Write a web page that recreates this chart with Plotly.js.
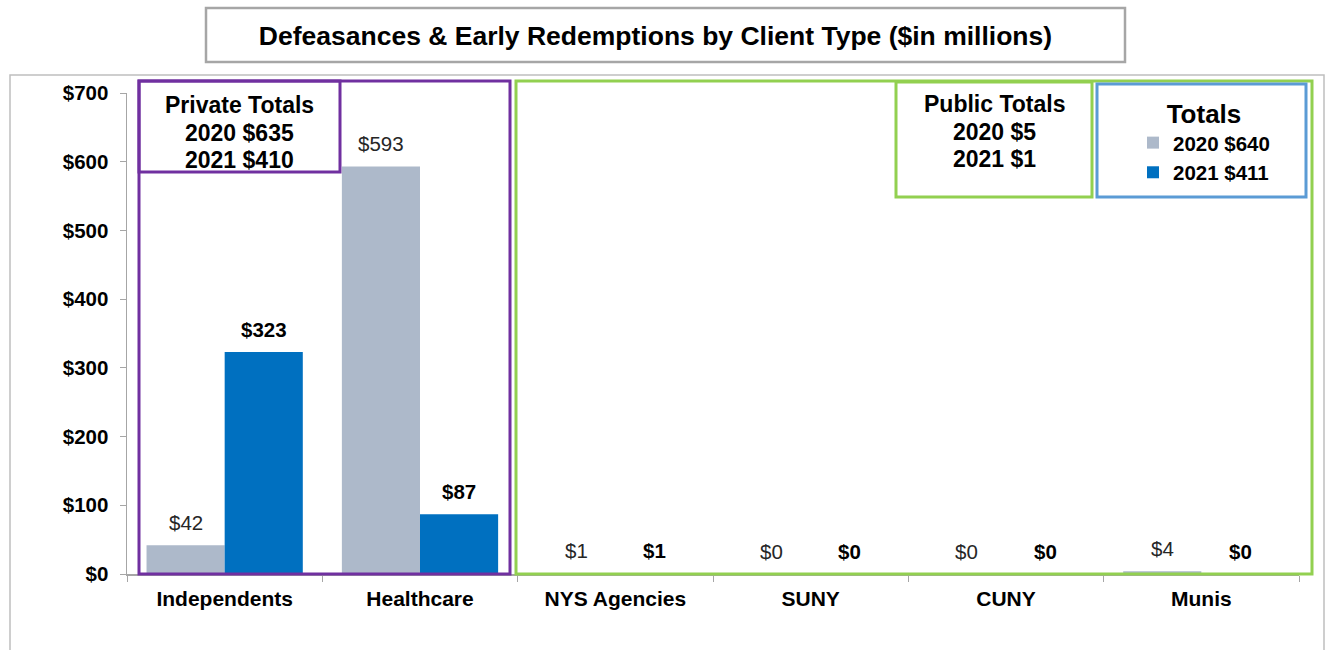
<!DOCTYPE html>
<html>
<head>
<meta charset="utf-8">
<script src="https://cdn.plot.ly/plotly-3.0.1.min.js"></script>
<style>
  html, body { margin: 0; padding: 0; background: #fff; }
  #plot { width: 1325px; height: 650px; }
</style>
</head>
<body>
<div id="plot"></div>
<script>
// 顧客タイプ別の値 ($ millions)
const categories = ["Independents", "Healthcare", "NYS Agencies", "SUNY", "CUNY", "Munis"];
const values2020 = [42, 593, 1, 0, 0, 4];
const values2021 = [323, 87, 1, 0, 0, 0];
const privateCount = 2;   // 先頭2つが private、残りが public
const yTicks = [0, 100, 200, 300, 400, 500, 600, 700];

const FONT = 'Arial, "Liberation Sans", sans-serif';
const GRAY = "#ADB9CA", BLUE = "#0070C0";

// プロット領域のピクセル位置
const W = 1325, H = 650;
const L = 127, R = 1299, T = 93, B = 574;
const px = x => (x - L) / (R - L);
const py = y => (B - y) / (B - T);

const sum = a => a.reduce((s, v) => s + v, 0);
const priv2020 = sum(values2020.slice(0, privateCount));
const priv2021 = sum(values2021.slice(0, privateCount));
const pub2020 = sum(values2020.slice(privateCount));
const pub2021 = sum(values2021.slice(privateCount));
const total2020 = sum(values2020), total2021 = sum(values2021);

const bargap = 0.2;
const catW = (R - L) / categories.length;
const barShift = catW * (1 - bargap) / 4;  // 棒の中心までのずれ

const traces = [{
    type: "bar",
    x: categories,
    y: values2020,
    name: `2020 $${total2020}`,
    marker: {color: GRAY},
    hoverinfo: "x+y"
}, {
    type: "bar",
    x: categories,
    y: values2021,
    name: `2021 $${total2021}`,
    marker: {color: BLUE},
    hoverinfo: "x+y"
}];

// 棒の上のラベル
const annotations = [];
categories.forEach((c, i) => {
    annotations.push({
        x: c, y: values2020[i], xref: "x", yref: "y",
        text: "$" + values2020[i], showarrow: false,
        xshift: -barShift, yshift: 23, yanchor: "middle",
        font: {family: FONT, size: 20.5, color: "#262626"}
    });
    annotations.push({
        x: c, y: values2021[i], xref: "x", yref: "y",
        text: "<b>$" + values2021[i] + "</b>", showarrow: false,
        xshift: barShift, yshift: 23, yanchor: "middle",
        font: {family: FONT, size: 20.5, color: "#000"}
    });
});

// 枠内の合計 (1行ずつ)
function boxText(cx, lines, ys) {
    lines.forEach((t, k) => annotations.push({
        x: px(cx), y: py(ys[k]), xref: "paper", yref: "paper",
        text: "<b>" + t + "</b>", showarrow: false,
        xanchor: "center", yanchor: "middle",
        font: {family: FONT, size: 23, color: "#000"}
    }));
}
boxText(239.5, ["Private Totals", `2020 $${priv2020}`, `2021 $${priv2021}`], [105, 133, 160]);
boxText(994, ["Public Totals", `2020 $${pub2020}`, `2021 $${pub2021}`], [104, 132, 159]);

const rect = (x0, y0, x1, y1, color, width) => ({
    type: "rect", xref: "paper", yref: "paper",
    x0: px(x0), x1: px(x1), y0: py(y1), y1: py(y0),
    line: {color: color, width: width}, fillcolor: "rgba(0,0,0,0)"
});

const shapes = [
    rect(10, 75, 1324, 700, "#BFBFBF", 1.5),      // 外枠
    rect(206, 8, 1125, 62, "#A6A6A6", 2.5),       // タイトル枠
    rect(139, 81, 510, 574, "#7030A0", 3),        // private
    rect(139, 81, 340, 172, "#7030A0", 3),
    rect(516, 81, 1312, 574, "#92D050", 3),       // public
    rect(896, 82, 1092, 197, "#92D050", 3),
    rect(1097, 84, 1306, 197, "#5B9BD5", 3)       // totals
];

const layout = {
    width: W, height: H,
    margin: {l: L, r: W - R, t: T, b: H - B},
    paper_bgcolor: "#fff", plot_bgcolor: "#fff",
    font: {family: FONT, color: "#000"},
    title: {
        text: "<b>Defeasances & Early Redemptions by Client Type ($in millions)</b>",
        x: 655.5 / W, xref: "container", xanchor: "center",
        y: 1 - 36 / H, yref: "container", yanchor: "middle",
        font: {family: FONT, size: 26.5, color: "#000"}
    },
    barmode: "group",
    bargap: bargap,
    bargroupgap: 0,
    showlegend: true,
    legend: {
        x: px(1133), xanchor: "left", y: py(89), yanchor: "top",
        title: {text: "<b>Totals</b>", side: "top center", font: {family: FONT, size: 26}},
        font: {family: FONT, size: 20.5, color: "#000", weight: "bold"},
        bgcolor: "rgba(0,0,0,0)", borderwidth: 0,
        itemclick: false, itemdoubleclick: false
    },
    xaxis: {
        type: "category",
        showline: true, linecolor: "#A6A6A6", linewidth: 1.5,
        ticks: "outside", tickson: "boundaries", ticklen: 6, tickcolor: "#A6A6A6",
        tickfont: {family: FONT, size: 21, color: "#000", weight: "bold"},
        ticklabelstandoff: 5,
        showgrid: false, zeroline: false
    },
    yaxis: {
        range: [0, 700],
        tickvals: yTicks,
        ticktext: yTicks.map(v => "$" + v),
        showline: true, linecolor: "#A6A6A6", linewidth: 1.5,
        ticks: "outside", ticklen: 6, tickcolor: "#A6A6A6",
        tickfont: {family: FONT, size: 20.5, color: "#000", weight: "bold"},
        ticklabelstandoff: 7,
        showgrid: false, zeroline: false
    },
    annotations: annotations,
    shapes: shapes
};

Plotly.newPlot("plot", traces, layout, {displayModeBar: false, staticPlot: true});
</script>
</body>
</html>
